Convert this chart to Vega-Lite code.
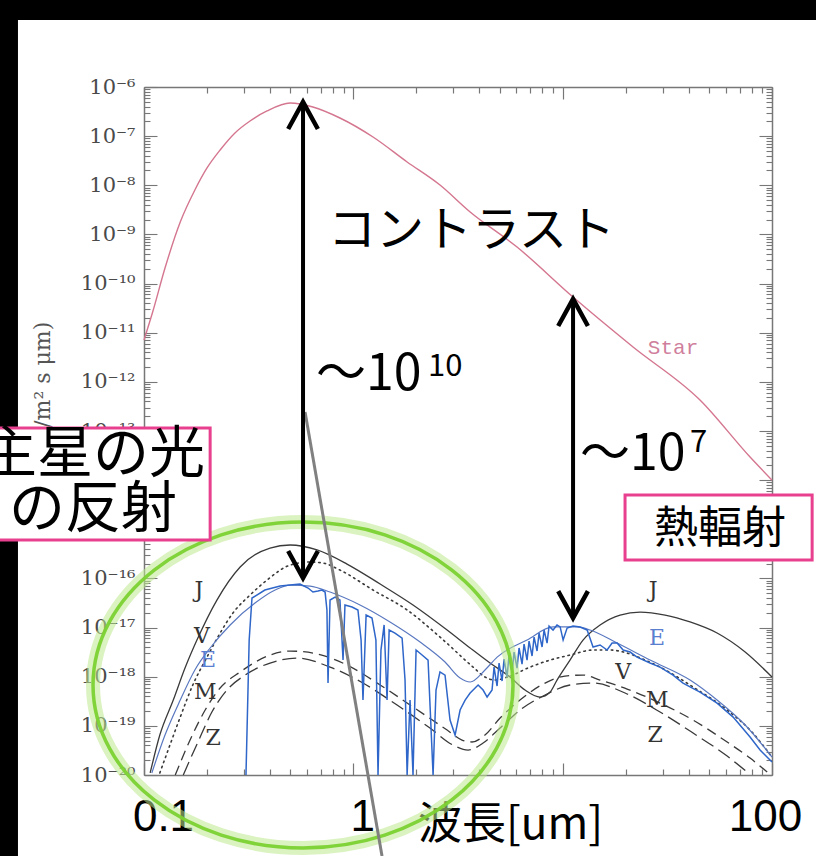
{
"$schema": "https://vega.github.io/schema/vega-lite/v6.json",
"width": 628, "height": 688,
"autosize": {"type": "none"},
"padding": {"left": 144, "top": 87, "right": 44, "bottom": 81},
"background": "white",
"config": {"view": {"stroke": null}, "axis": {"grid": false}},
"title": {"text": "SAO Solar System Model at 10 PC", "font": "DejaVu Serif", "fontSize": 24, "fontWeight": "normal", "color": "#3a3a3a", "offset": 7, "anchor": "middle"},
"datasets": {
"bands": [{"lam":1e-4,"lam2":1e4,"flux":2.31e-5,"flux2":1},{"lam":1e-4,"lam2":0.025,"flux":1e-30,"flux2":1}],
"star": [{"lam":0.1,"flux":7.10e-12},{"lam":0.110,"flux":2.64e-11},{"lam":0.126,"flux":2.07e-10},{"lam":0.149,"flux":1.79e-9},{"lam":0.175,"flux":8.02e-9},{"lam":0.200,"flux":2.25e-8},{"lam":0.231,"flux":5.22e-8},{"lam":0.272,"flux":1.16e-7},{"lam":0.321,"flux":2.03e-7},{"lam":0.387,"flux":3.25e-7},{"lam":0.499,"flux":4.72e-7},{"lam":0.641,"flux":3.92e-7},{"lam":0.863,"flux":2.34e-7},{"lam":1.242,"flux":9.60e-8},{"lam":1.807,"flux":2.98e-8},{"lam":2.594,"flux":1.01e-8},{"lam":3.614,"flux":2.86e-9},{"lam":6.053,"flux":5.55e-10},{"lam":11.21,"flux":5.32e-11},{"lam":21.69,"flux":5.12e-12},{"lam":45.29,"flux":4.27e-13},{"lam":78.55,"flux":2.95e-14},{"lam":100,"flux":1.00e-14}],
"J": [{"lam":0.107,"flux":1.10e-20},{"lam":0.119,"flux":6.50e-20},{"lam":0.138,"flux":3.35e-19},{"lam":0.157,"flux":1.50e-18},{"lam":0.179,"flux":5.57e-18},{"lam":0.223,"flux":3.63e-17},{"lam":0.288,"flux":1.71e-16},{"lam":0.400,"flux":4.16e-16},{"lam":0.499,"flux":4.79e-16},{"lam":0.671,"flux":3.79e-16},{"lam":0.933,"flux":1.96e-16},{"lam":1.343,"flux":7.69e-17},{"lam":1.928,"flux":2.88e-17},{"lam":2.805,"flux":8.91e-18},{"lam":3.614,"flux":3.84e-18},{"lam":4.498,"flux":1.90e-18},{"lam":5.610,"flux":9.85e-19},{"lam":6.607,"flux":5.36e-19},{"lam":7.798,"flux":3.86e-19},{"lam":8.710,"flux":4.88e-19},{"lam":9.397,"flux":8.55e-19},{"lam":10.84,"flux":2.18e-18},{"lam":12.51,"flux":5.57e-18},{"lam":15.09,"flux":1.13e-17},{"lam":18.81,"flux":1.80e-17},{"lam":23.44,"flux":2.07e-17},{"lam":30.85,"flux":1.80e-17},{"lam":40.60,"flux":1.30e-17},{"lam":54.66,"flux":7.74e-18},{"lam":74.43,"flux":3.18e-18},{"lam":100,"flux":9.85e-19}],
"V": [{"lam":0.119,"flux":1.10e-20},{"lam":0.133,"flux":4.07e-20},{"lam":0.149,"flux":1.51e-19},{"lam":0.171,"flux":6.78e-19},{"lam":0.200,"flux":2.51e-18},{"lam":0.231,"flux":7.74e-18},{"lam":0.266,"flux":1.98e-17},{"lam":0.321,"flux":4.59e-17},{"lam":0.387,"flux":9.27e-17},{"lam":0.499,"flux":1.87e-16},{"lam":0.621,"flux":2.16e-16},{"lam":0.716,"flux":2.06e-16},{"lam":0.863,"flux":1.48e-16},{"lam":1.242,"flux":5.81e-17},{"lam":1.807,"flux":2.28e-17},{"lam":2.594,"flux":6.41e-18},{"lam":3.733,"flux":1.57e-18},{"lam":4.255,"flux":9.85e-19},{"lam":4.753,"flux":8.55e-19},{"lam":5.610,"flux":1.03e-18},{"lam":6.982,"flux":1.57e-18},{"lam":8.710,"flux":2.18e-18},{"lam":10.84,"flux":2.76e-18},{"lam":13.97,"flux":3.49e-18},{"lam":16.85,"flux":3.49e-18},{"lam":20.32,"flux":3.03e-18},{"lam":24.76,"flux":2.18e-18},{"lam":29.19,"flux":1.57e-18},{"lam":41.98,"flux":6.17e-19},{"lam":61.06,"flux":2.10e-19},{"lam":78.55,"flux":8.22e-20},{"lam":100,"flux":2.32e-20}],
"M": [{"lam":0.141,"flux":1.00e-20},{"lam":0.166,"flux":5.14e-20},{"lam":0.196,"flux":2.10e-19},{"lam":0.231,"flux":5.89e-19},{"lam":0.288,"flux":1.25e-18},{"lam":0.400,"flux":2.76e-18},{"lam":0.499,"flux":3.33e-18},{"lam":0.671,"flux":2.90e-18},{"lam":0.933,"flux":1.73e-18},{"lam":1.343,"flux":6.78e-19},{"lam":1.928,"flux":2.42e-19},{"lam":2.805,"flux":8.22e-20},{"lam":3.304,"flux":5.14e-20},{"lam":3.690,"flux":4.69e-20},{"lam":4.255,"flux":6.50e-20},{"lam":5.024,"flux":1.44e-19},{"lam":6.252,"flux":3.35e-19},{"lam":8.241,"flux":7.43e-19},{"lam":10.26,"flux":1.03e-18},{"lam":12.51,"flux":1.08e-18},{"lam":15.09,"flux":8.55e-19},{"lam":20.32,"flux":5.61e-19},{"lam":29.19,"flux":2.91e-19},{"lam":41.98,"flux":1.31e-19},{"lam":61.06,"flux":4.69e-20},{"lam":78.55,"flux":2.21e-20},{"lam":94.83,"flux":1.15e-20}],
"Z": [{"lam":0.154,"flux":1.00e-20},{"lam":0.181,"flux":4.69e-20},{"lam":0.211,"flux":1.91e-19},{"lam":0.249,"flux":5.36e-19},{"lam":0.304,"flux":1.08e-18},{"lam":0.400,"flux":1.90e-18},{"lam":0.538,"flux":2.40e-18},{"lam":0.774,"flux":1.57e-18},{"lam":1.112,"flux":7.43e-19},{"lam":1.618,"flux":2.65e-19},{"lam":2.323,"flux":9.03e-20},{"lam":2.994,"flux":4.07e-20},{"lam":3.532,"flux":3.22e-20},{"lam":4.167,"flux":4.47e-20},{"lam":5.024,"flux":9.03e-20},{"lam":6.252,"flux":2.10e-19},{"lam":8.241,"flux":4.24e-19},{"lam":10.84,"flux":6.78e-19},{"lam":13.97,"flux":7.43e-19},{"lam":20.32,"flux":4.45e-19},{"lam":29.19,"flux":1.91e-19},{"lam":41.98,"flux":7.14e-20},{"lam":61.06,"flux":2.43e-20},{"lam":76.06,"flux":1.15e-20}],
"Eenv": [{"lam":0.109,"flux":1.10e-20},{"lam":0.126,"flux":6.50e-20},{"lam":0.149,"flux":3.35e-19},{"lam":0.175,"flux":1.37e-18},{"lam":0.207,"flux":3.84e-18},{"lam":0.258,"flux":1.13e-17},{"lam":0.339,"flux":3.15e-17},{"lam":0.423,"flux":5.81e-17},{"lam":0.499,"flux":7.34e-17},{"lam":0.621,"flux":7.00e-17},{"lam":0.774,"flux":5.28e-17},{"lam":1.076,"flux":2.88e-17},{"lam":1.497,"flux":1.30e-17},{"lam":2.084,"flux":5.08e-18},{"lam":2.742,"flux":1.99e-18},{"lam":3.236,"flux":9.40e-19},{"lam":3.614,"flux":7.80e-19},{"lam":4.255,"flux":1.37e-18},{"lam":4.864,"flux":2.51e-18},{"lam":6.761,"flux":5.57e-18},{"lam":8.995,"flux":1.03e-17},{"lam":11.71,"flux":1.03e-17},{"lam":13.52,"flux":8.91e-18},{"lam":18.20,"flux":4.84e-18},{"lam":26.15,"flux":2.18e-18},{"lam":40.60,"flux":8.55e-19},{"lam":54.66,"flux":3.35e-19},{"lam":74.43,"flux":1.04e-19},{"lam":100,"flux":2.32e-20}],
"Espec": [{"lam":0.307,"flux":1.0e-20},{"lam":0.318,"flux":5.57e-18},{"lam":0.328,"flux":3.99e-17},{"lam":0.378,"flux":5.81e-17},{"lam":0.447,"flux":7.00e-17},{"lam":0.556,"flux":7.69e-17},{"lam":0.608,"flux":6.38e-17},{"lam":0.641,"flux":5.28e-17},{"lam":0.678,"flux":5.55e-17},{"lam":0.708,"flux":5.81e-17},{"lam":0.733,"flux":5.28e-17},{"lam":0.748,"flux":2.28e-17},{"lam":0.757,"flux":7.43e-19},{"lam":0.774,"flux":3.63e-17},{"lam":0.818,"flux":4.18e-17},{"lam":0.863,"flux":3.63e-17},{"lam":0.893,"flux":2.18e-18},{"lam":0.912,"flux":2.88e-17},{"lam":0.986,"flux":2.62e-17},{"lam":1.052,"flux":2.28e-17},{"lam":1.089,"flux":5.57e-18},{"lam":1.112,"flux":3.35e-19},{"lam":1.151,"flux":1.80e-17},{"lam":1.228,"flux":1.56e-17},{"lam":1.282,"flux":5.57e-18},{"lam":1.312,"flux":1.0e-20},{"lam":1.355,"flux":3.49e-18},{"lam":1.403,"flux":1.13e-17},{"lam":1.449,"flux":3.35e-19},{"lam":1.483,"flux":8.91e-18},{"lam":1.581,"flux":7.74e-18},{"lam":1.710,"flux":6.12e-18},{"lam":1.766,"flux":8.55e-19},{"lam":1.807,"flux":1.0e-20},{"lam":1.866,"flux":3.35e-19},{"lam":1.928,"flux":1.0e-20},{"lam":1.994,"flux":3.49e-18},{"lam":2.130,"flux":2.76e-18},{"lam":2.275,"flux":2.18e-18},{"lam":2.404,"flux":1.0e-20},{"lam":2.483,"flux":5.36e-19},{"lam":2.594,"flux":1.25e-18},{"lam":2.742,"flux":1.08e-18},{"lam":2.897,"flux":1.31e-19},{"lam":3.062,"flux":6.50e-20},{"lam":3.236,"flux":2.10e-19},{"lam":3.420,"flux":3.35e-19},{"lam":3.614,"flux":4.66e-19},{"lam":3.945,"flux":6.78e-19},{"lam":4.167,"flux":5.36e-19},{"lam":4.355,"flux":3.86e-19},{"lam":4.600,"flux":5.36e-19},{"lam":4.701,"flux":1.57e-18},{"lam":4.860,"flux":6.46e-19},{"lam":4.968,"flux":1.90e-18},{"lam":5.135,"flux":8.17e-19},{"lam":5.248,"flux":2.29e-18},{"lam":5.424,"flux":9.85e-19},{"lam":5.545,"flux":2.76e-18},{"lam":5.731,"flux":1.19e-18},{"lam":5.859,"flux":3.18e-18},{"lam":6.055,"flux":1.50e-18},{"lam":6.190,"flux":3.84e-18},{"lam":6.397,"flux":1.81e-18},{"lam":6.540,"flux":4.62e-18},{"lam":6.759,"flux":2.18e-18},{"lam":6.910,"flux":5.32e-18},{"lam":7.142,"flux":2.64e-18},{"lam":7.301,"flux":6.41e-18},{"lam":7.546,"flux":3.33e-18},{"lam":7.713,"flux":7.74e-18},{"lam":7.973,"flux":4.02e-18},{"lam":8.150,"flux":8.91e-18},{"lam":8.424,"flux":4.84e-18},{"lam":8.610,"flux":1.07e-17},{"lam":8.995,"flux":8.91e-18},{"lam":9.397,"flux":1.13e-17},{"lam":9.727,"flux":1.03e-17},{"lam":10.05,"flux":5.57e-18},{"lam":10.50,"flux":9.79e-18},{"lam":11.21,"flux":1.07e-17},{"lam":12.11,"flux":1.03e-17},{"lam":13.09,"flux":8.91e-18},{"lam":13.97,"flux":4.02e-18},{"lam":15.09,"flux":4.42e-18},{"lam":16.30,"flux":3.49e-18},{"lam":17.22,"flux":4.84e-18},{"lam":18.20,"flux":4.84e-18},{"lam":19.45,"flux":3.49e-18},{"lam":21.0,"flux":3.18e-18},{"lam":22.66,"flux":2.51e-18},{"lam":26.15,"flux":1.90e-18},{"lam":29.19,"flux":1.57e-18},{"lam":33.68,"flux":1.08e-18},{"lam":37.58,"flux":7.43e-19},{"lam":45.29,"flux":4.88e-19},{"lam":54.66,"flux":2.91e-19},{"lam":65.21,"flux":1.51e-19},{"lam":78.55,"flux":5.92e-20},{"lam":87.70,"flux":3.22e-20},{"lam":100,"flux":1.84e-20}],
"bodies": [{"lam":0.183,"flux":5.81e-17,"body":"J"},{"lam":0.189,"flux":6.73e-18,"body":"V"},{"lam":0.202,"flux":2.18e-18,"body":"E"},{"lam":0.196,"flux":4.88e-19,"body":"M"},{"lam":0.214,"flux":5.65e-20,"body":"Z"},{"lam":27.04,"flux":5.81e-17,"body":"J"},{"lam":28.27,"flux":6.12e-18,"body":"E"},{"lam":19.45,"flux":1.25e-18,"body":"V"},{"lam":28.27,"flux":3.35e-19,"body":"M"},{"lam":27.66,"flux":6.50e-20,"body":"Z"}],
"starlabel": [{"lam":33.68,"flux":4.89e-12,"text":"Star"}],
"ring": [{"lam":0.575,"flux":6.78e-19}],
"gray": [{"lam":0.588,"lam2":1.371,"flux":2.43e-13,"flux2":2.24e-22}],
"shafts": [{"lam":0.575,"flux":4.95e-7,"flux2":1.02e-16},{"lam":11.21,"flux":4.85e-11,"flux2":1.56e-17}],
"heads": [{"lam":0.575,"flux":4.95e-7,"dir":"up"},{"lam":0.575,"flux":1.02e-16,"dir":"down"},{"lam":11.21,"flux":4.85e-11,"dir":"up"},{"lam":11.21,"flux":1.56e-17,"dir":"down"}],
"contrast": [{"lam":0.757,"flux":1.12e-9,"text":"コントラスト"}],
"ratio": [{"lam":0.664,"flux":6.82e-13,"text":"～10"},{"lam":12.11,"flux":1.61e-14,"text":"～10"}],
"ratiosup": [{"lam":2.275,"flux":1.32e-12,"text":"10"},{"lam":40.60,"flux":3.73e-14,"text":"7"}],
"boxes": [{"lam":0.0194,"lam2":0.207,"flux":1.15e-13,"flux2":6.04e-16},{"lam":19.86,"lam2":155.5,"flux":4.98e-15,"flux2":2.37e-16}],
"boxtext1": [{"lam":0.0571,"flux":3.25e-14,"text":"主星の光"},{"lam":0.0571,"flux":2.47e-15,"text":"の反射"}],
"boxtext2": [{"lam":56.5,"flux":9.66e-16,"text":"熱輻射"}],
"dummy": [{"lam":1,"flux":1e-10}]
},
"resolve": {"axis": {"x": "independent", "y": "independent"}},
"layer": [
{
"encoding": {
 "x": {"field": "lam", "type": "quantitative", "scale": {"type": "log", "domain": [0.1, 100]},
  "axis": {"orient": "bottom", "values": [0.1,0.2,0.3,0.4,0.5,0.6,0.7,0.8,0.9,1,2,3,4,5,6,7,8,9,10,20,30,40,50,60,70,80,90,100],
   "labelExpr": "datum.value == 0.1 ? '0.1' : datum.value == 1 ? '1' : datum.value == 100 ? '100' : ''",
   "labelFont": "Liberation Sans", "labelFontSize": 44, "labelColor": "#000", "labelPadding": 32, "labelFlush": false, "labelOverlap": false,
   "labelOffset": {"condition": [{"test": "datum.value == 0.1", "value": 19}, {"test": "datum.value == 1", "value": 9}], "value": -7},
   "tickSize": {"condition": {"test": "abs(log(datum.value)/LN10 - round(log(datum.value)/LN10)) < 0.001", "value": -12}, "value": -6},
   "tickColor": "#777", "tickWidth": 1.2, "domainColor": "#777", "domainWidth": 1.5,
   "title": "波長[um]", "titleFont": "Noto Sans CJK JP", "titleFontSize": 44, "titleFontWeight": "normal", "titleColor": "#000",
   "titleX": 366, "titleY": 63, "titleBaseline": "alphabetic", "titleAlign": "center", "titleAnchor": null}},
 "y": {"field": "flux", "type": "quantitative", "scale": {"type": "log", "domain": [1e-20, 1e-6]},
  "axis": {"orient": "left", "values": [1e-20,2e-20,3e-20,4e-20,5e-20,6e-20,7e-20,8e-20,9e-20,1e-19,2e-19,3e-19,4e-19,5e-19,6e-19,7e-19,8e-19,9e-19,1e-18,2e-18,3e-18,4e-18,5e-18,6e-18,7e-18,8e-18,9e-18,1e-17,2e-17,3e-17,4e-17,5e-17,6e-17,7e-17,8e-17,9e-17,1e-16,2e-16,3e-16,4e-16,5e-16,6e-16,7e-16,8e-16,9e-16,1e-15,2e-15,3e-15,4e-15,5e-15,6e-15,7e-15,8e-15,9e-15,1e-14,2e-14,3e-14,4e-14,5e-14,6e-14,7e-14,8e-14,9e-14,1e-13,2e-13,3e-13,4e-13,5e-13,6e-13,7e-13,8e-13,9e-13,1e-12,2e-12,3e-12,4e-12,5e-12,6e-12,7e-12,8e-12,9e-12,1e-11,2e-11,3e-11,4e-11,5e-11,6e-11,7e-11,8e-11,9e-11,1e-10,2e-10,3e-10,4e-10,5e-10,6e-10,7e-10,8e-10,9e-10,1e-9,2e-9,3e-9,4e-9,5e-9,6e-9,7e-9,8e-9,9e-9,1e-8,2e-8,3e-8,4e-8,5e-8,6e-8,7e-8,8e-8,9e-8,1e-7,2e-7,3e-7,4e-7,5e-7,6e-7,7e-7,8e-7,9e-7,1e-6],
   "labelExpr": "abs(log(datum.value)/LN10 - round(log(datum.value)/LN10)) < 0.001 ? '10⁻' + (-round(log(datum.value)/LN10) >= 10 ? substring('⁰¹²³⁴⁵⁶⁷⁸⁹', floor(-round(log(datum.value)/LN10)/10), floor(-round(log(datum.value)/LN10)/10) + 1) : '') + substring('⁰¹²³⁴⁵⁶⁷⁸⁹', (-round(log(datum.value)/LN10)) % 10, (-round(log(datum.value)/LN10)) % 10 + 1) : ''",
   "labelFont": "DejaVu Serif", "labelFontSize": 21, "labelColor": "#4a4a4a", "labelPadding": 22, "labelOverlap": false, "labelFlush": false,
   "tickSize": {"condition": {"test": "abs(log(datum.value)/LN10 - round(log(datum.value)/LN10)) < 0.001", "value": -13}, "value": -6},
   "tickColor": "#777", "tickWidth": 1.1, "domainColor": "#777", "domainWidth": 1.5,
   "title": "I (photons/m² s μm)", "titleFont": "DejaVu Serif", "titleFontSize": 22, "titleFontWeight": "normal", "titleColor": "#555", "titlePadding": 26}}
},
"layer": [
 {"data": {"name": "bands"}, "mark": {"type": "rect", "color": "#000"}, "encoding": {"x2": {"field": "lam2"}, "y2": {"field": "flux2"}}},
 {"data": {"name": "star"}, "mark": {"type": "line", "color": "#d4768f", "strokeWidth": 1.4, "interpolate": "monotone"}},
 {"data": {"name": "J"}, "mark": {"type": "line", "color": "#3a3a3a", "strokeWidth": 1.3, "interpolate": "monotone"}},
 {"data": {"name": "V"}, "mark": {"type": "line", "color": "#3a3a3a", "strokeWidth": 1.6, "strokeDash": [1.5, 4], "strokeCap": "round", "interpolate": "monotone"}},
 {"data": {"name": "M"}, "mark": {"type": "line", "color": "#3a3a3a", "strokeWidth": 1.3, "strokeDash": [10, 6], "interpolate": "monotone"}},
 {"data": {"name": "Z"}, "mark": {"type": "line", "color": "#3a3a3a", "strokeWidth": 1.3, "strokeDash": [14, 6], "interpolate": "monotone"}},
 {"data": {"name": "Eenv"}, "mark": {"type": "line", "color": "#5a78c0", "strokeWidth": 1.2, "interpolate": "monotone"}},
 {"data": {"name": "Espec"}, "mark": {"type": "line", "color": "#2f66c9", "strokeWidth": 1.5}},
 {"data": {"name": "bodies"}, "mark": {"type": "text", "font": "DejaVu Serif", "fontSize": 22, "align": "center", "baseline": "middle"},
  "encoding": {"text": {"field": "body"}, "color": {"field": "body", "type": "nominal", "scale": {"domain": ["J","V","E","M","Z"], "range": ["#333333","#333333","#5b7fd0","#333333","#333333"]}, "legend": null}}},
 {"data": {"name": "starlabel"}, "mark": {"type": "text", "font": "Liberation Mono", "fontSize": 21, "color": "#cf7f9c", "align": "center", "baseline": "middle"}, "encoding": {"text": {"field": "text"}}},
 {"data": {"name": "ring"}, "mark": {"type": "point", "shape": "M1,0C1,0.4286,0.5523,0.776,0,0.776C-0.5523,0.776,-1,0.4286,-1,0C-1,-0.4286,-0.5523,-0.776,0,-0.776C0.5523,-0.776,1,-0.4286,1,0Z", "size": 176400, "filled": false, "stroke": "#bfe98f", "strokeWidth": 14, "opacity": 0.55}},
 {"data": {"name": "ring"}, "mark": {"type": "point", "shape": "M1,0C1,0.4286,0.5523,0.776,0,0.776C-0.5523,0.776,-1,0.4286,-1,0C-1,-0.4286,-0.5523,-0.776,0,-0.776C0.5523,-0.776,1,-0.4286,1,0Z", "size": 176400, "filled": false, "stroke": "#7cd232", "strokeWidth": 3.5, "opacity": 0.95}},
 {"data": {"name": "gray"}, "mark": {"type": "rule", "color": "#808080", "strokeWidth": 3}, "encoding": {"x2": {"field": "lam2"}, "y2": {"field": "flux2"}}},
 {"data": {"name": "shafts"}, "mark": {"type": "rule", "color": "#000", "strokeWidth": 4}, "encoding": {"y2": {"field": "flux2"}}},
 {"data": {"name": "heads"}, "mark": {"type": "point", "size": 2916, "filled": false, "stroke": "#000", "strokeWidth": 4.5, "opacity": 1, "strokeJoin": "miter"},
  "encoding": {"shape": {"field": "dir", "type": "nominal", "scale": {"domain": ["up","down"], "range": ["M-0.55,1L0,0L0.55,1", "M-0.55,-1L0,0L0.55,-1"]}, "legend": null}}},
 {"data": {"name": "contrast"}, "mark": {"type": "text", "font": "Noto Sans CJK JP", "fontSize": 48, "color": "#000", "align": "left", "baseline": "middle"}, "encoding": {"text": {"field": "text"}}},
 {"data": {"name": "ratio"}, "mark": {"type": "text", "font": "Noto Sans CJK JP", "fontSize": 50, "color": "#000", "align": "left", "baseline": "alphabetic"}, "encoding": {"text": {"field": "text"}}},
 {"data": {"name": "ratiosup"}, "mark": {"type": "text", "font": "Noto Sans CJK JP", "fontSize": 31, "color": "#000", "align": "left", "baseline": "alphabetic"}, "encoding": {"text": {"field": "text"}}},
 {"data": {"name": "boxes"}, "mark": {"type": "rect", "fill": "#fff", "stroke": "#e8408f", "strokeWidth": 3}, "encoding": {"x2": {"field": "lam2"}, "y2": {"field": "flux2"}}},
 {"data": {"name": "boxtext1"}, "mark": {"type": "text", "font": "Noto Sans CJK JP", "fontSize": 56, "color": "#000", "align": "center", "baseline": "middle"}, "encoding": {"text": {"field": "text"}}},
 {"data": {"name": "boxtext2"}, "mark": {"type": "text", "font": "Noto Sans CJK JP", "fontSize": 44, "color": "#000", "align": "center", "baseline": "middle"}, "encoding": {"text": {"field": "text"}}}
]
},
{
"data": {"name": "dummy"},
"mark": {"type": "point", "opacity": 0},
"encoding": {
 "x": {"field": "lam", "type": "quantitative", "scale": {"type": "log", "domain": [0.1, 100]},
  "axis": {"orient": "top", "values": [0.1,0.2,0.3,0.4,0.5,0.6,0.7,0.8,0.9,1,2,3,4,5,6,7,8,9,10,20,30,40,50,60,70,80,90,100], "labels": false, "title": null,
   "tickSize": {"condition": {"test": "abs(log(datum.value)/LN10 - round(log(datum.value)/LN10)) < 0.001", "value": -12}, "value": -6},
   "tickColor": "#777", "tickWidth": 1.2, "domainColor": "#777", "domainWidth": 1.5}},
 "y": {"field": "flux", "type": "quantitative", "scale": {"type": "log", "domain": [1e-20, 1e-6]},
  "axis": {"orient": "right", "values": [1e-20,2e-20,3e-20,4e-20,5e-20,6e-20,7e-20,8e-20,9e-20,1e-19,2e-19,3e-19,4e-19,5e-19,6e-19,7e-19,8e-19,9e-19,1e-18,2e-18,3e-18,4e-18,5e-18,6e-18,7e-18,8e-18,9e-18,1e-17,2e-17,3e-17,4e-17,5e-17,6e-17,7e-17,8e-17,9e-17,1e-16,2e-16,3e-16,4e-16,5e-16,6e-16,7e-16,8e-16,9e-16,1e-15,2e-15,3e-15,4e-15,5e-15,6e-15,7e-15,8e-15,9e-15,1e-14,2e-14,3e-14,4e-14,5e-14,6e-14,7e-14,8e-14,9e-14,1e-13,2e-13,3e-13,4e-13,5e-13,6e-13,7e-13,8e-13,9e-13,1e-12,2e-12,3e-12,4e-12,5e-12,6e-12,7e-12,8e-12,9e-12,1e-11,2e-11,3e-11,4e-11,5e-11,6e-11,7e-11,8e-11,9e-11,1e-10,2e-10,3e-10,4e-10,5e-10,6e-10,7e-10,8e-10,9e-10,1e-9,2e-9,3e-9,4e-9,5e-9,6e-9,7e-9,8e-9,9e-9,1e-8,2e-8,3e-8,4e-8,5e-8,6e-8,7e-8,8e-8,9e-8,1e-7,2e-7,3e-7,4e-7,5e-7,6e-7,7e-7,8e-7,9e-7,1e-6], "labels": false, "title": null,
   "tickSize": {"condition": {"test": "abs(log(datum.value)/LN10 - round(log(datum.value)/LN10)) < 0.001", "value": -13}, "value": -6},
   "tickColor": "#777", "tickWidth": 1.1, "domainColor": "#777", "domainWidth": 1.5}}
}
}
]
}
